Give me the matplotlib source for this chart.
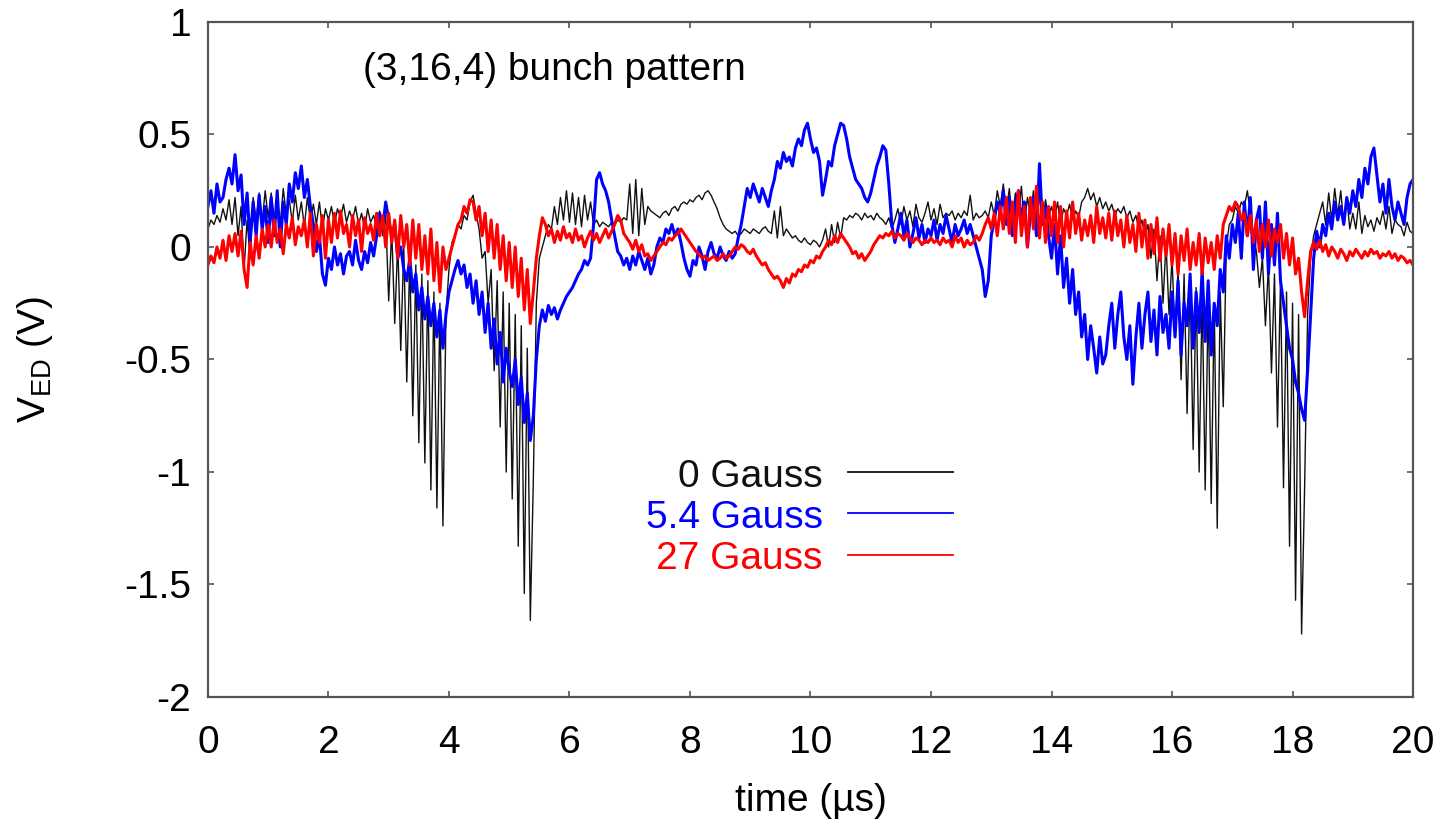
import numpy as np
import matplotlib.pyplot as plt

plt.rcParams['font.family'] = ['Liberation Sans', 'DejaVu Sans']
plt.rcParams['axes.unicode_minus'] = False

# sample times (us), one row of values per microsecond
time_us = np.linspace(0, 20, 401)

v_0g = [
    0.08, 0.12, 0.10, 0.14, 0.11, 0.17, 0.12, 0.21, 0.10, 0.22, 0.05, 0.18, -0.10, 0.12, -0.05, 0.22, 0.12, 0.24, 0.11, 0.25,
    0.13, 0.24, 0.12, 0.22, 0.10, 0.26, 0.14, 0.21, 0.11, 0.23, 0.12, 0.20, 0.09, 0.22, 0.12, 0.19, 0.10, 0.20, 0.08, 0.17,
    0.12, 0.18, 0.10, 0.17, 0.13, 0.19, 0.11, 0.16, 0.12, 0.18, 0.10, 0.15, 0.08, 0.17, 0.11, 0.14, 0.09, 0.16, 0.05, 0.14,
    -0.24, 0.08, -0.34, 0.02, -0.46, 0.00, -0.60, -0.05, -0.75, -0.08, -0.87, -0.12, -0.96, -0.15, -1.08, -0.20, -1.16, -0.25, -1.24, -0.30,
    -0.10, 0.02, 0.05, 0.10, 0.08, 0.14, 0.12, 0.20, 0.23, 0.15, 0.08, -0.05, -0.02, -0.25, -0.10, -0.55, -0.15, -0.80, -0.20, -1.00,
    -0.25, -1.12, -0.30, -1.33, -0.35, -1.54, -0.45, -1.66, -1.04, -0.25, -0.05, 0.00, 0.05, 0.10, 0.08, 0.18, 0.10, 0.22, 0.12, 0.25,
    0.11, 0.24, 0.10, 0.22, 0.09, 0.23, 0.12, 0.20, 0.10, 0.12, 0.09, 0.11, 0.10, 0.09, 0.11, 0.10, 0.12, 0.11, 0.13, 0.12,
    0.28, 0.06, 0.30, 0.05, 0.26, 0.10, 0.18, 0.16, 0.15, 0.14, 0.13, 0.15, 0.16, 0.14, 0.17, 0.18, 0.16, 0.19, 0.20, 0.19,
    0.21, 0.20, 0.22, 0.23, 0.21, 0.24, 0.25, 0.23, 0.20, 0.17, 0.13, 0.10, 0.08, 0.07, 0.06, 0.07, 0.05, 0.06, 0.08, 0.07,
    0.06, 0.08, 0.07, 0.06, 0.08, 0.09, 0.07, 0.06, 0.16, 0.04, 0.18, 0.05, 0.08, 0.06, 0.04, 0.05, 0.03, 0.02, 0.04, 0.02,
    0.01, 0.03, 0.02, 0.00, 0.03, 0.08, 0.00, 0.10, 0.02, 0.11, 0.04, 0.13, 0.12, 0.14, 0.13, 0.15, 0.14, 0.12, 0.15, 0.13,
    0.14, 0.12, 0.15, 0.13, 0.12, 0.10, 0.13, 0.08, 0.12, 0.17, 0.10, 0.18, 0.12, 0.16, 0.09, 0.19, 0.13, 0.11, 0.15, 0.20,
    0.12, 0.17, 0.10, 0.19, 0.13, 0.15, 0.14, 0.16, 0.12, 0.15, 0.13, 0.16, 0.14, 0.23, 0.12, 0.15, 0.13, 0.14, 0.16, 0.13,
    0.20, 0.14, 0.25, 0.18, 0.28, 0.16, 0.26, 0.12, 0.24, 0.15, 0.27, 0.10, 0.22, 0.14, 0.25, 0.12, 0.23, 0.10, 0.21, 0.13,
    0.18, 0.12, 0.20, 0.10, 0.17, 0.14, 0.19, 0.12, 0.16, 0.13, 0.20, 0.22, 0.26, 0.21, 0.24, 0.18, 0.22, 0.17, 0.20, 0.16,
    0.19, 0.14, 0.17, 0.15, 0.18, 0.13, 0.16, 0.11, 0.14, 0.08, 0.12, 0.05, 0.10, -0.05, 0.08, -0.15, 0.05, -0.25, 0.02, -0.30,
    -0.05, -0.40, -0.10, -0.59, -0.12, -0.74, -0.15, -0.90, -0.18, -1.00, -0.20, -1.08, -0.22, -1.14, -0.25, -1.25, -0.20, -0.71, 0.00, 0.10,
    0.12, 0.18, 0.15, 0.20, 0.18, 0.25, 0.15, 0.05, -0.02, -0.18, -0.05, -0.35, -0.08, -0.56, -0.12, -0.80, -0.15, -1.07, -0.20, -1.33,
    -0.25, -1.57, -0.30, -1.72, -1.07, -0.30, -0.05, 0.05, 0.10, 0.15, 0.20, 0.10, 0.24, 0.12, 0.26, 0.14, 0.25, 0.10, 0.22, 0.08,
    0.15, 0.08, 0.20, 0.06, 0.14, 0.09, 0.12, 0.07, 0.13, 0.10, 0.16, 0.08, 0.18, 0.06, 0.12, 0.10, 0.09, 0.05, 0.11, 0.07,
    0.06,
]

v_5g = [
    0.18, 0.25, 0.15, 0.28, 0.20, 0.22, 0.30, 0.35, 0.28, 0.41, 0.25, 0.32, 0.10, 0.24, 0.02, 0.20, 0.05, 0.23, 0.08, 0.18,
    0.02, 0.22, 0.05, 0.25, 0.00, 0.20, 0.10, 0.28, 0.20, 0.33, 0.26, 0.36, 0.22, 0.30, 0.18, 0.10, -0.02, 0.05, -0.12, -0.17,
    -0.05, -0.10, 0.00, -0.08, -0.03, -0.12, -0.04, -0.02, -0.08, 0.03, -0.06, -0.10, -0.02, -0.07, 0.02, -0.04, 0.05, 0.15, 0.08, 0.20,
    0.12, 0.05, 0.10, -0.05, 0.00, -0.10, -0.15, -0.05, -0.20, -0.12, -0.28, -0.18, -0.32, -0.22, -0.35, -0.25, -0.40, -0.28, -0.45, -0.30,
    -0.20, -0.15, -0.10, -0.06, -0.12, -0.08, -0.18, -0.12, -0.25, -0.15, -0.30, -0.20, -0.38, -0.25, -0.45, -0.32, -0.52, -0.38, -0.60, -0.45,
    -0.55, -0.62, -0.50, -0.70, -0.58, -0.78, -0.65, -0.86, -0.75, -0.50, -0.35, -0.28, -0.33, -0.26, -0.30, -0.27, -0.32, -0.28, -0.25, -0.22,
    -0.20, -0.18, -0.15, -0.12, -0.10, -0.06, -0.08, -0.05, 0.10, 0.30, 0.33, 0.28, 0.25, 0.20, 0.12, 0.05, -0.02, -0.04, -0.08, -0.05,
    -0.10, -0.04, -0.08, -0.02, -0.06, -0.10, -0.05, -0.12, -0.08, 0.00, 0.04, 0.02, 0.08, 0.06, 0.10, 0.05, 0.08, 0.02, -0.05, -0.10,
    -0.13, -0.06, -0.08, 0.00, -0.04, -0.10, -0.02, 0.02, -0.03, -0.05, 0.00, -0.04, -0.06, -0.02, -0.05, -0.03, 0.04, 0.10, 0.18, 0.26,
    0.22, 0.28, 0.24, 0.20, 0.26, 0.22, 0.18, 0.25, 0.30, 0.38, 0.35, 0.42, 0.38, 0.40, 0.36, 0.44, 0.48, 0.45, 0.52, 0.55,
    0.48, 0.42, 0.44, 0.38, 0.23, 0.30, 0.38, 0.36, 0.45, 0.50, 0.55, 0.54, 0.48, 0.40, 0.35, 0.30, 0.28, 0.26, 0.22, 0.20,
    0.24, 0.30, 0.36, 0.40, 0.45, 0.43, 0.28, 0.10, 0.02, 0.08, 0.15, 0.05, 0.12, 0.00, 0.06, 0.13, 0.04, 0.10, 0.02, 0.08,
    0.05, 0.12, 0.03, 0.10, 0.06, 0.14, 0.08, 0.02, 0.10, 0.05, 0.08, 0.12, 0.06, 0.10, 0.05, 0.00, -0.05, -0.10, -0.22, -0.15,
    0.05, 0.12, 0.20, 0.15, 0.25, 0.10, 0.22, 0.05, 0.18, 0.25, 0.12, 0.20, 0.00, 0.15, 0.22, 0.05, 0.37, 0.10, 0.18, 0.05,
    -0.05, 0.10, -0.12, 0.05, -0.18, -0.05, -0.25, -0.10, -0.30, -0.20, -0.40, -0.30, -0.50, -0.35, -0.45, -0.56, -0.40, -0.52, -0.48, -0.35,
    -0.25, -0.45, -0.30, -0.20, -0.40, -0.50, -0.35, -0.61, -0.40, -0.25, -0.45, -0.30, -0.20, -0.42, -0.28, -0.48, -0.22, -0.38, -0.30, -0.45,
    -0.20, -0.40, -0.15, -0.48, -0.25, -0.35, -0.12, -0.45, -0.20, -0.38, -0.10, -0.42, -0.15, -0.48, -0.25, -0.35, -0.10, -0.20, 0.05, -0.05,
    0.10, 0.02, 0.15, -0.05, 0.20, 0.05, 0.22, -0.10, 0.12, 0.18, -0.05, 0.20, -0.12, 0.10, -0.08, 0.15, -0.15, -0.25, -0.35, -0.45,
    -0.50, -0.60, -0.65, -0.72, -0.77, -0.55, -0.30, -0.05, 0.07, 0.00, 0.10, 0.05, 0.15, 0.08, 0.20, 0.12, 0.18, 0.10, 0.22, 0.15,
    0.25, 0.18, 0.30, 0.22, 0.35, 0.28, 0.40, 0.44, 0.32, 0.20, 0.28, 0.15, 0.30, 0.18, 0.12, 0.20, 0.15, 0.10, 0.22, 0.28,
    0.30,
]

v_27g = [
    -0.08, -0.04, -0.07, 0.00, -0.05, 0.03, -0.06, 0.05, -0.02, 0.06, -0.04, 0.07, -0.10, -0.18, 0.02, -0.08, 0.05, -0.05, 0.08, 0.00,
    0.10, 0.00, 0.12, 0.02, 0.08, -0.03, 0.10, 0.04, 0.13, 0.01, 0.09, 0.05, 0.12, 0.00, 0.15, -0.04, 0.10, 0.02, 0.14, -0.05,
    0.12, 0.02, 0.15, 0.04, 0.16, 0.06, 0.10, 0.00, 0.14, 0.05, 0.12, -0.02, 0.13, 0.06, 0.10, 0.03, 0.15, 0.05, 0.14, 0.00,
    0.15, 0.02, 0.12, -0.05, 0.14, 0.00, 0.10, -0.08, 0.12, -0.05, 0.10, -0.10, 0.05, -0.12, 0.08, -0.15, 0.02, -0.20, 0.00, -0.10,
    -0.05, 0.00, 0.05, 0.10, 0.12, 0.18, 0.15, 0.21, 0.20, 0.12, 0.18, 0.05, 0.15, -0.02, 0.12, -0.05, 0.10, -0.10, 0.05, -0.15,
    0.02, -0.18, 0.00, -0.22, -0.05, -0.28, -0.10, -0.34, -0.20, -0.05, 0.05, 0.13, 0.10, 0.05, 0.08, 0.02, 0.07, 0.03, 0.09, 0.04,
    0.06, 0.02, 0.08, 0.03, 0.05, 0.00, 0.04, 0.07, 0.03, 0.06, 0.02, 0.05, 0.08, 0.04, 0.07, 0.10, 0.14, 0.12, 0.06, 0.04,
    0.02, -0.01, 0.03, -0.02, 0.01, -0.04, -0.03, -0.06, -0.04, -0.02, 0.00, 0.02, 0.01, 0.04, 0.03, 0.05, 0.06, 0.08, 0.06, 0.04,
    0.02, 0.00, -0.02, -0.03, -0.05, -0.04, -0.06, -0.05, -0.04, -0.06, -0.05, -0.03, -0.05, -0.04, -0.02, 0.00, -0.01, 0.01, 0.00, -0.02,
    -0.03, -0.01, -0.04, -0.06, -0.08, -0.07, -0.10, -0.12, -0.14, -0.13, -0.15, -0.18, -0.14, -0.16, -0.12, -0.13, -0.10, -0.11, -0.08, -0.09,
    -0.06, -0.07, -0.04, -0.05, -0.02, 0.00, 0.03, 0.01, 0.05, 0.02, 0.06, 0.04, 0.02, 0.00, -0.03, -0.02, -0.05, -0.03, -0.06, -0.04,
    -0.02, 0.01, 0.03, 0.05, 0.04, 0.06, 0.05, 0.07, 0.04, 0.06, 0.05, 0.03, 0.06, 0.04, 0.02, 0.04, 0.03, 0.01, 0.03, 0.02,
    0.04, 0.02, 0.03, 0.01, 0.04, 0.02, 0.03, 0.00, 0.05, 0.02, 0.04, 0.00, 0.03, 0.01, 0.02, 0.05, 0.03, 0.06, 0.10, 0.13,
    0.08, 0.15, 0.05, 0.18, 0.08, 0.22, 0.06, 0.20, 0.02, 0.25, 0.05, 0.18, 0.00, 0.22, 0.08, 0.27, 0.04, 0.20, 0.02, 0.18,
    0.05, 0.20, 0.02, 0.18, 0.00, 0.16, 0.04, 0.20, 0.06, 0.15, 0.03, 0.12, 0.05, 0.14, 0.02, 0.18, 0.06, 0.13, 0.04, 0.15,
    0.03, 0.16, 0.05, 0.12, 0.00, 0.14, 0.02, 0.10, -0.02, 0.15, 0.00, 0.12, -0.05, 0.10, -0.03, 0.13, -0.06, 0.08, -0.04, 0.10,
    -0.08, 0.06, -0.12, 0.05, -0.06, 0.08, -0.10, 0.02, -0.08, 0.06, -0.12, 0.04, -0.07, 0.02, -0.10, 0.05, -0.05, 0.10, 0.14, 0.18,
    0.16, 0.20, 0.18, 0.12, 0.15, 0.05, 0.14, 0.02, 0.12, -0.02, 0.10, 0.00, 0.12, -0.04, 0.08, 0.02, 0.10, -0.05, 0.06, -0.08,
    0.04, -0.12, -0.05, -0.20, -0.31, -0.15, -0.02, 0.02, -0.01, 0.03, -0.02, 0.01, -0.04, 0.00, -0.02, -0.05, -0.01, -0.03, -0.06, -0.02,
    -0.04, -0.01, -0.03, -0.05, -0.02, -0.04, -0.01, -0.03, -0.02, -0.05, -0.03, -0.04, -0.02, -0.05, -0.03, -0.06, -0.04, -0.05, -0.07, -0.06,
    -0.08,
]

labels = ['0 Gauss', '5.4 Gauss', '27 Gauss']
colors = ['#111111', '#0000ff', '#ff0000']
widths = [1.0, 2.2, 2.2]
yticks = [1, 0.5, 0, -0.5, -1, -1.5, -2]
ytick_labels = ['1', '0.5', '0', '-0.5', '-1', '-1.5', '-2']
xticks = [0, 2, 4, 6, 8, 10, 12, 14, 16, 18, 20]

fig = plt.figure(figsize=(14.49, 8.23), dpi=100)
ax = fig.add_axes([0.1435, 0.1531, 0.8317, 0.8202])

for v, c, w in zip([v_0g, v_5g, v_27g], colors, widths):
    ax.plot(time_us, v, color=c, lw=w)

ax.set_xlim(0, 20)
ax.set_ylim(-2, 1)
ax.set_xticks(xticks)
ax.set_yticks(yticks)
ax.set_yticklabels(ytick_labels)
ax.tick_params(direction='in', top=True, right=True, length=4, width=1.2,
               labelsize=28, colors='#555555', labelcolor='black')
ax.tick_params(axis='x', pad=20)
ax.tick_params(axis='y', pad=12)
for s in ax.spines.values():
    s.set_linewidth(1.6)
    s.set_color('#555555')

ax.set_xlabel('time (\u00b5s)', fontsize=28, labelpad=16)
ax.set_ylabel(r'V$_{\mathregular{ED}}$ (V)', fontsize=28, labelpad=50)

ax.text(0.1286, 0.914, '(3,16,4) bunch pattern', transform=ax.transAxes,
        fontsize=28, va='baseline', ha='left')

# legend drawn by hand: right-aligned text, sample line after it
legend_text_y = [0.311, 0.250, 0.190]
legend_line_y = [0.333, 0.273, 0.211]
for lab, c, ty, ly in zip(labels, colors, legend_text_y, legend_line_y):
    ax.text(0.510, ty, lab, color=c, fontsize=28, ha='right', va='baseline',
            transform=ax.transAxes)
    ax.plot([0.531, 0.618], [ly, ly], color=c, lw=1.3, transform=ax.transAxes)

fig.savefig('out.png', dpi=100)
